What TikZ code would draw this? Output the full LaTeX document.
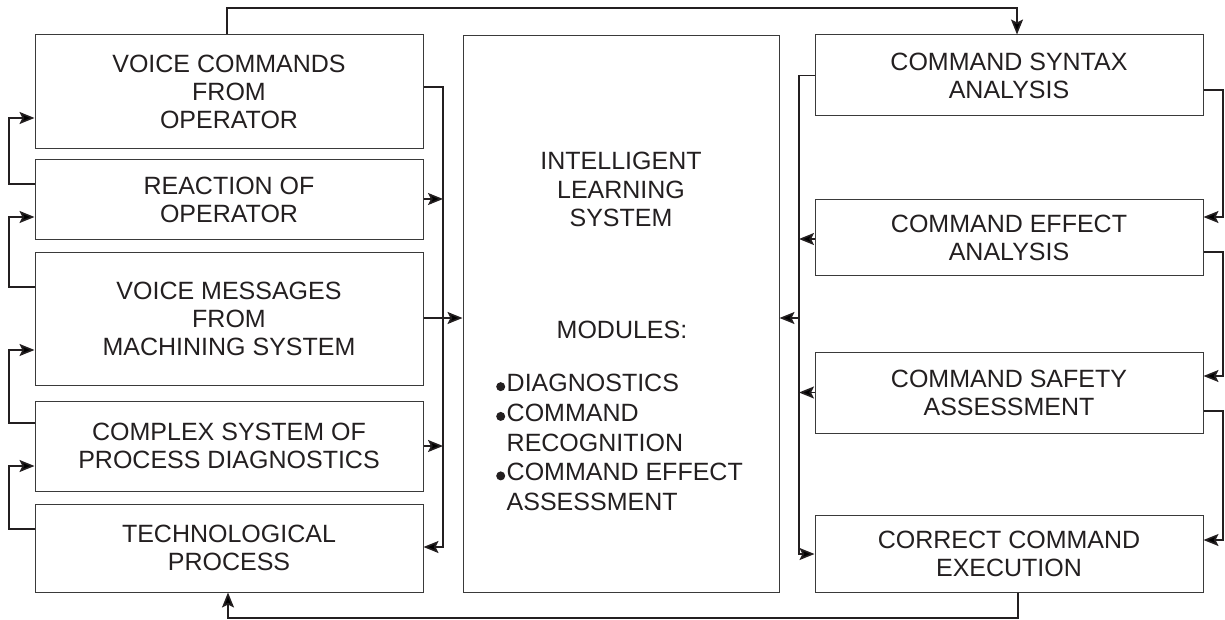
\documentclass[tikz,border=0pt]{standalone}
\usepackage{fontspec}
\setmainfont{Liberation Sans}
\usetikzlibrary{arrows.meta,calc}

\definecolor{ink}{HTML}{231F20}
\definecolor{edge}{HTML}{3A3A3A}

% bullet and hanging indent for the module list
\newcommand\mitem{\tikz[baseline=0pt]\fill[ink] (0pt,5pt) circle (4.5pt);\hspace*{1.5pt}}
\newcommand\mindent{\hspace*{10.5pt}}

\tikzset{
  box/.style={draw=edge, line width=1pt, rectangle, inner sep=0pt, align=center,
              text=ink, font=\fontsize{25}{28}\selectfont},
  label/.style={inner sep=0pt, text=ink},
  conn/.style={draw=ink, line width=1.6pt},
  arr/.style={conn, -{Stealth[length=15pt,width=12pt,inset=3pt]}}
}

\begin{document}
\begin{tikzpicture}[x=1pt,y=-1pt]
\useasboundingbox (0,0) rectangle (1225,620);

% left column
\node[box, minimum width=388pt, minimum height=114pt] (b1) at (229,92)  {VOICE COMMANDS\\FROM\\OPERATOR};
\node[box, minimum width=388pt, minimum height=80pt]  (b2) at (229,200) {REACTION OF\\OPERATOR};
\node[box, minimum width=388pt, minimum height=132pt] (b3) at (229,319) {VOICE MESSAGES\\FROM\\MACHINING SYSTEM};
\node[box, minimum width=388pt, minimum height=90pt]  (b4) at (229,446) {COMPLEX SYSTEM OF\\PROCESS DIAGNOSTICS};
\node[box, minimum width=388pt, minimum height=88pt]  (b5) at (229,548) {TECHNOLOGICAL\\PROCESS};

% central system
\node[box, minimum width=316pt, minimum height=556pt] (ils) at (621,314) {};
\node[label, anchor=north, align=center, font=\fontsize{25}{28.5}\selectfont] (ilstitle) at (621,152)
  {INTELLIGENT\\LEARNING\\SYSTEM};
\node[label, anchor=north, font=\fontsize{25}{28}\selectfont] (ilsmods) at (622,321) {MODULES:};
\node[label, anchor=north west, align=left, font=\fontsize{25}{29.75}\selectfont] (ilslist) at (496,374)
  {\mitem DIAGNOSTICS\\\mitem COMMAND\\\mindent RECOGNITION\\\mitem COMMAND EFFECT\\\mindent ASSESSMENT};

% right column
\node[box, minimum width=388pt, minimum height=81pt] (r1) at (1009,75.5)  {COMMAND SYNTAX\\ANALYSIS};
\node[box, minimum width=388pt, minimum height=75pt] (r2) at (1009,237.5) {COMMAND EFFECT\\ANALYSIS};
\node[box, minimum width=388pt, minimum height=81pt] (r3) at (1009,392.5) {COMMAND SAFETY\\ASSESSMENT};
\node[box, minimum width=388pt, minimum height=77pt] (r4) at (1009,553.5) {CORRECT COMMAND\\EXECUTION};

% rails and buses
\coordinate (toprail) at (600,8);
\coordinate (botrail) at (600,618);
\coordinate (lbus) at (443,547);
\coordinate (rbus) at (799,554);
\coordinate (rbusmid) at (799,318);
\coordinate (rrail) at (1223,0);
\coordinate (lrail) at (9,0);

% top and bottom loops
\draw[arr] ([xshift=-2pt]b1.north) |- (toprail) -| ([xshift=8pt]r1.north);
\draw[arr] ([xshift=9pt]r4.south) |- (botrail) -| ([xshift=-1pt]b5.south);

% left bus into the learning system
\draw[arr] ([yshift=5pt]b1.east) -| (lbus) -- (lbus -| b5.east);
\draw[arr] ([yshift=1pt]b2.east) -- ([yshift=1pt]b2.east -| lbus);
\draw[arr] ([yshift=1pt]b3.east) -- ([yshift=1pt]b3.east -| ils.west);
\draw[arr] (b4.east) -- (b4.east -| lbus);

% right bus into the learning system
\draw[arr] (r1.west) -| (rbus) -- (rbus -| r4.west);
\draw[arr] ([yshift=-1.5pt]r2.west) -- ([yshift=-1.5pt]r2.west -| rbus);
\draw[arr] (r3.west) -- (r3.west -| rbus);
\draw[arr] (rbusmid) -- (rbusmid -| ils.east);

% right-hand chain
\coordinate (r2in) at ([yshift=20.5pt]r2.east);
\coordinate (r3in) at ([yshift=16.5pt]r3.east);
\coordinate (r4in) at ([yshift=13.5pt]r4.east);
\draw[arr] ([yshift=-14.5pt]r1.east) -| (rrail |- r2in) -- (r2in);
\draw[arr] ([yshift=-14.5pt]r2.east) -| (rrail |- r3in) -- (r3in);
\draw[arr] ([yshift=-18.5pt]r3.east) -| (rrail |- r4in) -- (r4in);

% left-hand feedback loops
\coordinate (b1in) at ([yshift=-26pt]b1.west);
\coordinate (b2in) at ([yshift=-17pt]b2.west);
\coordinate (b3in) at ([yshift=-31pt]b3.west);
\coordinate (b4in) at ([yshift=-20pt]b4.west);
\draw[arr] ([yshift=16pt]b2.west) -| (lrail |- b1in) -- (b1in);
\draw[arr] ([yshift=32pt]b3.west) -| (lrail |- b2in) -- (b2in);
\draw[arr] ([yshift=23pt]b4.west) -| (lrail |- b3in) -- (b3in);
\draw[arr] ([yshift=19pt]b5.west) -| (lrail |- b4in) -- (b4in);
\end{tikzpicture}
\end{document}
